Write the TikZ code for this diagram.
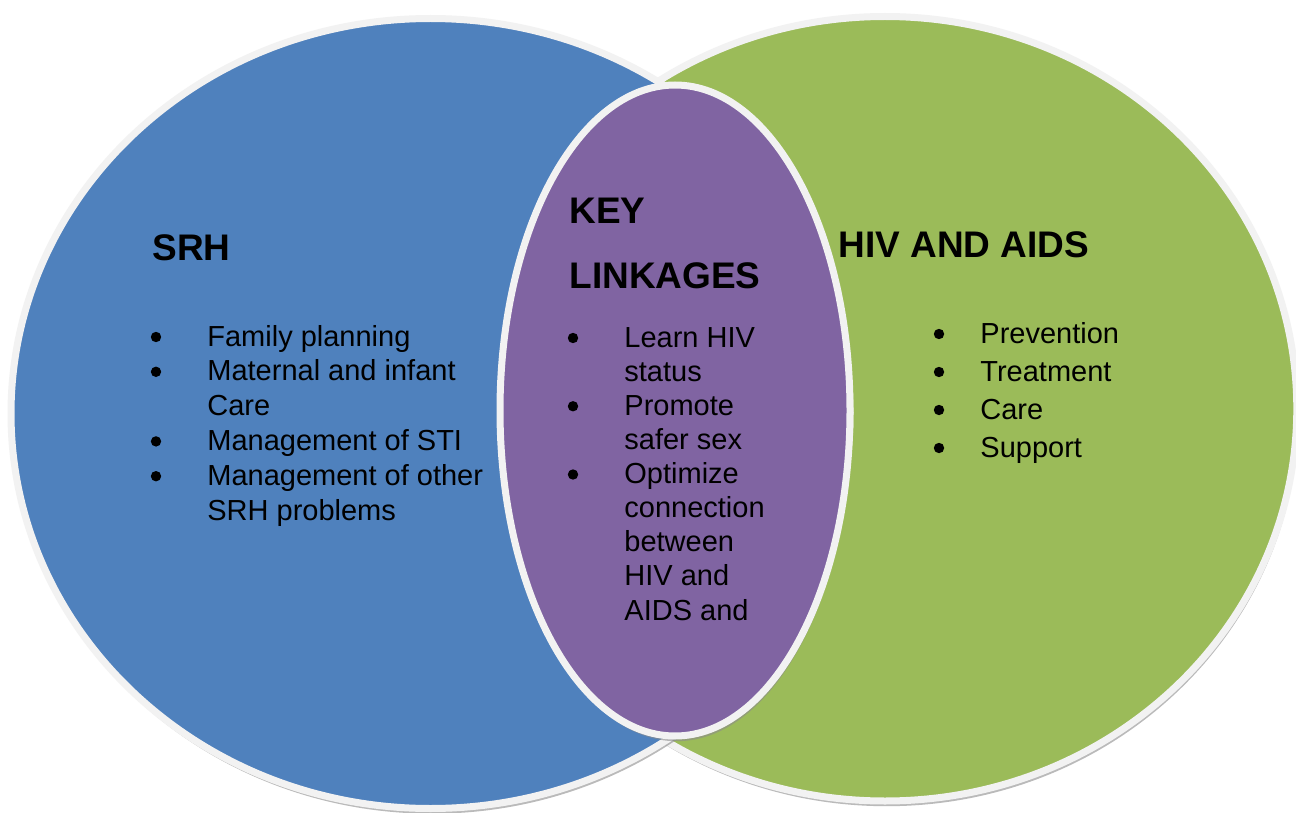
\documentclass[tikz,border=0pt]{standalone}
\usepackage{fontspec}
\setmainfont{Liberation Sans}
\usetikzlibrary{shadows}
\definecolor{SrhBlue}{HTML}{4F81BD}
\definecolor{HivGreen}{HTML}{9BBB59}
\definecolor{LinkPurple}{HTML}{8064A2}
\definecolor{RimGray}{HTML}{F2F2F2}
\tikzset{
  setshape/.style = {draw = RimGray, line width = 3.5pt,
    drop shadow = {shadow xshift = 0.8pt, shadow yshift = -2.6pt, fill = black!45, opacity = 0.6}},
  heading/.style = {anchor = base west, inner sep = 0pt, font = \fontsize{18.5}{22}\selectfont\bfseries},
  item/.style = {anchor = base west, inner sep = 0pt, font = \fontsize{14.5}{17}\selectfont},
}
\begin{document}
\begin{tikzpicture}[x = 0.5pt, y = -0.5pt]
  \useasboundingbox (0, 0) rectangle (1296, 813);
  \fill [fill = white] (0, 0) rectangle (1296, 813);
  % the three sets
  \path [setshape, fill = HivGreen] (885, 408.75) ellipse [x radius = 411.8, y radius = 392.25];
  \path [setshape, fill = SrhBlue] (430.5, 413.5) ellipse [x radius = 419.5, y radius = 395];
  \path [setshape, fill = LinkPurple] (675, 410.5) ellipse [x radius = 175, y radius = 325.5];
  % headings
  \node [heading] (srh) at (152, 260) {SRH};
  \node [heading] (key) at (569, 223) {KEY};
  \node [heading] (linkages) at (569, 288) {LINKAGES};
  \node [heading] (hivaids) at (838, 257) {HIV AND AIDS};
  % lists
  \foreach \t [count = \i] in {Family planning, Maternal and infant, Care, Management of STI, Management of other, SRH problems}
    \node [item] (srh-\i) at (207, {346+34.8*(\i-1)}) {\t};
  \foreach \t [count = \i] in {Learn HIV, status, Promote, safer sex, Optimize, connection, between, HIV and, AIDS and}
    \node [item] (link-\i) at (624, {347+34.125*(\i-1)}) {\t};
  \foreach \t [count = \i] in {Prevention, Treatment, Care, Support}
    \node [item] (hiv-\i) at (980, {343+38*(\i-1)}) {\t};
  % bullets
  \foreach \i in {1, 2, 4, 5}
    \fill ([xshift = -25.5pt, yshift = 4.5pt] srh-\i.base west) circle [radius = 2.6pt];
  \foreach \i in {1, 3, 5}
    \fill ([xshift = -25.5pt, yshift = 4.5pt] link-\i.base west) circle [radius = 2.6pt];
  \foreach \i in {1, 2, 3, 4}
    \fill ([xshift = -20.5pt, yshift = 4.5pt] hiv-\i.base west) circle [radius = 2.6pt];
\end{tikzpicture}
\end{document}
